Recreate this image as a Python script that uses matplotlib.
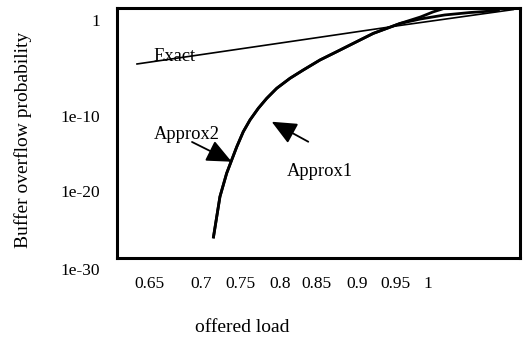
import matplotlib
matplotlib.use("Agg")
import matplotlib.pyplot as plt
import matplotlib.transforms as mtransforms
from matplotlib.ticker import NullLocator
import numpy as np

plt.rcParams['font.family'] = ['Liberation Serif', 'DejaVu Serif']

# values
exact_load = [0.623, 0.703, 0.830, 0.957, 1.101]
exact_prob = [2.8e-6, 4.0e-5, 2.8e-3, 0.20, 20.0]

# both approximations share the lower branch and split near load 0.96
shared_load = [0.7199, 0.7284, 0.7369, 0.7433, 0.7497, 0.7580, 0.7666, 0.7771,
               0.7878, 0.8005, 0.8174, 0.8343, 0.8555, 0.8767, 0.8978, 0.9232, 0.957]
shared_prob = [3.0e-28, 5.4e-23, 4.7e-20, 2.2e-18, 1.0e-16, 8.1e-15, 2.5e-13, 7.2e-12,
               1.3e-10, 2.4e-9, 4.4e-8, 4.9e-7, 8.9e-6, 9.8e-5, 1.1e-3, 2.0e-2, 0.35]

approx1_load = shared_load + [0.983, 0.999, 1.019]
approx1_prob = shared_prob + [2.3, 10.0, 43.0]

approx2_load = shared_load + [0.983, 1.014, 1.046, 1.084]
approx2_prob = shared_prob + [1.3, 4.2, 8.5, 15.5]

xticks = [0.65, 0.7, 0.75, 0.8, 0.85, 0.9, 0.95, 1.0]
xticklabels = ["0.65", "0.7", "0.75", "0.8", "0.85", "0.9", "0.95", "1"]
yticks = [1, 1e-10, 1e-20, 1e-30]
yticklabels = ["1", "1e-10", "1e-20", "1e-30"]

# label nudges (pixels) to mimic the hand placed labels of the original
xlabel_shift = [-9, 4, 3, 4, 1, 2, 1, -6]
ylabel_shift = [0, -17, -12, -11]

fig = plt.figure(figsize=(5.24, 3.37), dpi=100)
ax = fig.add_axes([117/524, 1 - 258/337, 403/524, 250/337])

ax.plot(exact_load, exact_prob, color="black", lw=1.2)
ax.plot(approx1_load, approx1_prob, color="black", lw=2.0, solid_capstyle="butt")
ax.plot(approx2_load, approx2_prob, color="black", lw=2.0, solid_capstyle="butt")

ax.set_yscale("log")
ax.set_xlim(0.5976, 1.1096)
ax.set_ylim(1e-30, 10**1.5)

ax.set_xticks(xticks)
ax.set_xticklabels(xticklabels)
ax.set_yticks(yticks)
ax.set_yticklabels(yticklabels)
ax.yaxis.set_minor_locator(NullLocator())
ax.xaxis.set_minor_locator(NullLocator())
ax.tick_params(axis="x", length=0, pad=13, labelsize=12.5)
ax.tick_params(axis="y", length=0, pad=12, labelsize=12.5)

for tick, dx in zip(ax.xaxis.get_major_ticks(), xlabel_shift):
    lab = tick.label1
    lab.set_transform(lab.get_transform() +
                      mtransforms.ScaledTranslation(dx / 100, 0, fig.dpi_scale_trans))
for tick, dy in zip(ax.yaxis.get_major_ticks(), ylabel_shift):
    lab = tick.label1
    lab.set_transform(lab.get_transform() +
                      mtransforms.ScaledTranslation(0, dy / 100, fig.dpi_scale_trans))

for sp in ax.spines.values():
    sp.set_linewidth(2.2)

ax.set_xlabel("offered load", fontsize=14, va="center")
ax.xaxis.set_label_coords(0.311, -0.278)
ax.set_ylabel("Buffer overflow probability", fontsize=14, va="center")
ax.yaxis.set_label_coords(-0.233, 0.472)

ax.text(0.670, 2.8e-5, "Exact", fontsize=13.3, ha="center", va="center")
ax.text(0.6865, 3.2e-15, "Approx2", fontsize=13.3, ha="center", va="center")
ax.text(0.8555, 8.0e-20, "Approx1", fontsize=13.3, ha="center", va="center")

head = "-|>,head_length=0.85,head_width=0.38"
ax.annotate("", xy=(0.7433, 10**-17.87), xytext=(0.6929, 10**-15.38),
            arrowprops=dict(arrowstyle=head, mutation_scale=18, lw=1.3,
                            color="black", shrinkA=0, shrinkB=0))
ax.annotate("", xy=(0.7941, 10**-12.83), xytext=(0.8406, 10**-15.35),
            arrowprops=dict(arrowstyle=head, mutation_scale=18, lw=1.3,
                            color="black", shrinkA=0, shrinkB=0))

fig.savefig("out.png", dpi=100)
